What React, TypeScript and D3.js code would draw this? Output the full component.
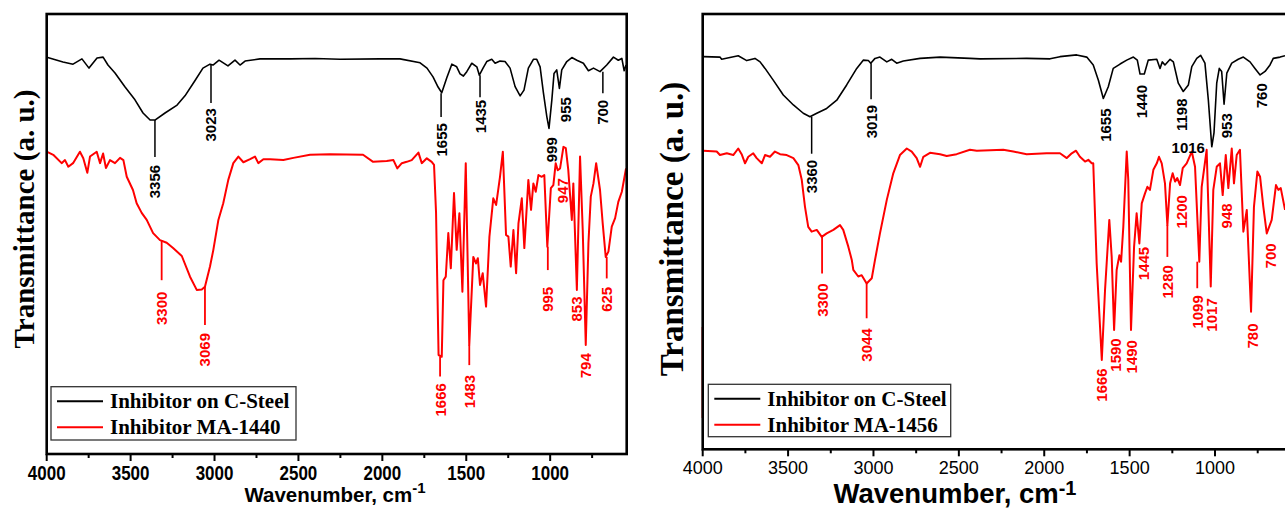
import React, { useEffect } from "react";
import * as d3 from "d3";

type Pt = [number, number];

// ---------- data: [wavenumber cm^-1, transmittance a.u.] ----------
const leftSteel: Pt[] = [[3994,90.1],[3903,89.1],[3843,88.6],[3790,89.8],[3748,87.7],[3700,90.0],[3664,90.2],[3635,88.4],[3593,86.6],[3533,83.4],[3474,80.5],[3426,77.5],[3384,75.9],[3355,75.9],[3295,77.5],[3223,79.3],[3176,81.4],[3116,84.9],[3069,87.7],[3027,88.6],[3009,88.4],[2973,89.5],[2920,88.2],[2878,89.5],[2848,88.4],[2818,89.3],[2729,89.8],[2550,89.8],[2400,89.9],[2252,89.7],[2014,89.8],[1895,89.8],[1775,88.9],[1734,87.7],[1698,85.7],[1668,83.4],[1646,82.1],[1616,85.5],[1586,88.6],[1557,88.0],[1537,86.4],[1517,85.9],[1497,86.9],[1467,88.8],[1437,88.0],[1422,86.1],[1400,87.7],[1378,89.2],[1348,89.7],[1328,88.8],[1299,89.3],[1269,89.2],[1239,87.7],[1209,83.5],[1179,81.4],[1156,82.7],[1130,87.7],[1100,89.7],[1080,89.7],[1060,88.0],[1040,82.0],[1020,76.7],[1007,74.0],[990,80.5],[977,86.5],[961,87.3],[945,83.1],[931,87.3],[901,89.2],[871,90.1],[841,89.5],[802,88.8],[772,87.1],[742,87.7],[703,86.9],[663,88.4],[623,90.2],[594,89.5],[573,89.9],[559,87.1],[548,88.4]];

const leftMA1440: Pt[] = [[3994,68.6],[3961,68.0],[3911,66.1],[3891,66.8],[3871,65.3],[3843,66.1],[3802,68.7],[3782,67.2],[3758,63.9],[3742,67.6],[3702,68.7],[3682,66.1],[3664,68.3],[3647,65.0],[3623,66.8],[3593,66.1],[3563,67.3],[3543,66.8],[3523,63.0],[3486,60.0],[3464,57.0],[3434,54.8],[3404,53.2],[3366,50.2],[3325,48.6],[3285,48.0],[3247,46.8],[3195,45.0],[3146,40.3],[3106,37.3],[3076,37.4],[3057,38.0],[3027,42.6],[3007,46.4],[2977,53.2],[2948,57.0],[2918,62.3],[2888,66.1],[2858,67.6],[2828,66.3],[2788,67.0],[2759,67.6],[2739,66.1],[2709,67.0],[2669,67.0],[2590,66.8],[2530,67.3],[2431,68.0],[2312,68.1],[2115,68.0],[2055,66.4],[1974,66.6],[1934,66.8],[1911,64.9],[1884,66.1],[1855,66.4],[1825,66.8],[1785,68.5],[1765,66.1],[1735,67.2],[1706,66.4],[1692,65.7],[1680,54.8],[1665,22.5],[1646,22.1],[1636,39.5],[1622,40.3],[1607,50.2],[1592,42.2],[1573,59.3],[1557,46.4],[1541,54.7],[1523,36.9],[1503,66.1],[1482,24.8],[1458,44.8],[1442,43.3],[1431,44.5],[1418,38.4],[1402,41.1],[1382,33.5],[1362,49.4],[1339,58.1],[1322,56.6],[1299,63.0],[1282,68.7],[1263,49.8],[1249,49.4],[1235,42.6],[1219,50.9],[1203,41.1],[1189,52.4],[1169,58.1],[1154,46.8],[1130,62.3],[1114,55.5],[1100,61.5],[1086,59.6],[1070,63.4],[1050,63.0],[1035,63.4],[1017,47.1],[996,60.4],[981,61.1],[967,66.1],[955,64.5],[941,64.9],[921,69.8],[907,69.5],[892,64.5],[871,53.2],[862,61.5],[841,37.3],[822,67.6],[806,50.9],[788,24.8],[772,47.9],[758,58.5],[742,61.5],[726,66.1],[703,60.0],[687,52.4],[669,44.8],[653,46.0],[633,51.7],[613,53.6],[594,57.3],[573,59.6],[548,64.9]];

const rightSteel: Pt[] = [[3996,90.2],[3899,90.1],[3889,89.6],[3792,90.4],[3742,89.3],[3694,89.8],[3664,89.0],[3635,87.5],[3587,84.8],[3528,81.4],[3469,79.1],[3411,77.2],[3372,76.4],[3332,77.2],[3274,78.3],[3215,80.2],[3157,83.7],[3098,87.5],[3060,89.4],[3030,89.3],[3016,88.7],[2991,89.8],[2962,90.1],[2922,89.0],[2893,89.6],[2864,88.7],[2825,89.2],[2727,89.8],[2610,90.1],[2435,89.8],[2376,89.7],[2103,89.8],[1966,89.7],[1908,90.2],[1810,90.6],[1751,90.1],[1713,88.3],[1683,84.8],[1654,80.6],[1625,83.3],[1596,87.5],[1556,88.5],[1517,89.4],[1478,90.1],[1455,89.4],[1439,86.2],[1414,86.2],[1391,89.4],[1341,89.6],[1322,87.5],[1309,89.0],[1293,88.3],[1263,89.6],[1244,89.0],[1215,84.1],[1186,82.2],[1156,83.7],[1136,87.9],[1107,89.8],[1084,90.5],[1059,88.7],[1039,80.2],[1019,69.5],[1006,72.7],[990,84.1],[975,87.5],[961,86.8],[947,79.3],[931,86.4],[902,88.7],[864,89.6],[834,90.1],[795,89.0],[766,87.5],[736,86.0],[707,86.8],[678,88.3],[659,89.8],[619,90.1],[590,90.4]];

const rightMA1456: Pt[] = [[3996,68.6],[3918,68.4],[3899,67.6],[3859,68.0],[3821,67.6],[3792,69.1],[3772,67.8],[3752,65.7],[3733,67.2],[3704,68.0],[3684,66.9],[3654,65.7],[3635,67.6],[3606,67.2],[3577,68.4],[3547,67.8],[3508,67.6],[3469,66.9],[3440,65.3],[3420,61.9],[3401,55.7],[3382,51.1],[3362,50.0],[3332,50.4],[3303,48.8],[3274,49.6],[3235,50.4],[3196,51.5],[3177,50.4],[3147,46.5],[3127,43.5],[3118,41.2],[3089,39.7],[3069,40.0],[3040,38.1],[3010,39.3],[2991,43.5],[2962,49.6],[2922,57.3],[2884,63.4],[2845,67.6],[2805,69.1],[2776,68.4],[2747,66.9],[2727,64.9],[2708,67.2],[2669,68.1],[2610,67.8],[2571,67.4],[2513,67.8],[2435,68.8],[2395,68.6],[2240,68.8],[2181,68.4],[2103,67.8],[1986,68.0],[1908,68.0],[1868,66.9],[1839,68.0],[1814,68.6],[1791,67.2],[1761,66.1],[1742,66.5],[1722,65.7],[1713,65.7],[1693,42.7],[1663,20.5],[1644,36.6],[1619,52.7],[1605,44.2],[1591,27.4],[1576,41.2],[1560,44.6],[1550,43.1],[1537,51.1],[1517,68.4],[1508,61.9],[1492,27.4],[1474,46.5],[1459,54.2],[1443,47.3],[1429,56.5],[1410,58.8],[1396,60.3],[1381,59.6],[1361,64.2],[1341,65.7],[1328,67.2],[1312,65.7],[1293,61.1],[1279,51.5],[1263,61.1],[1248,63.4],[1234,61.5],[1221,62.3],[1205,60.7],[1189,64.6],[1166,65.7],[1136,68.4],[1117,64.9],[1092,43.1],[1078,60.3],[1049,68.8],[1025,37.4],[1010,59.6],[990,64.9],[971,65.7],[955,58.4],[937,67.6],[922,60.0],[902,69.1],[889,61.1],[873,67.6],[854,68.8],[834,50.0],[814,55.0],[789,31.6],[772,55.7],[752,63.8],[736,62.6],[717,55.7],[697,49.6],[668,52.7],[643,60.7],[629,59.6],[615,60.0],[590,55.0]];

const rightMA1456Start: Pt[] = [[4000, 28.1], [4000, 7.2]];

interface Peak { label: string; wn: number; from?: number; to?: number; top: number; }

const leftSteelPeaks: Peak[] = [
  { label: "3356", wn: 3355, from: 75.9, to: 67.5, top: 65.7 },
  { label: "3023", wn: 3021, from: 88.4, to: 79.8, top: 78.6 },
  { label: "1655", wn: 1650, from: 82.0, to: 76.6, top: 75.2 },
  { label: "1435", wn: 1418, from: 86.1, to: 81.1, top: 80.5 },
  { label: "999", wn: 995, top: 72.0 },
  { label: "955", wn: 911, top: 81.1 },
  { label: "700", wn: 686, from: 86.9, to: 82.0, top: 80.5 },
];
const leftMAPeaks: Peak[] = [
  { label: "3300", wn: 3315, from: 48.6, to: 39.5, top: 36.9 },
  { label: "3069", wn: 3057, from: 38.0, to: 29.3, top: 27.5 },
  { label: "1666", wn: 1656, from: 22.1, to: 17.6, top: 16.1 },
  { label: "1483", wn: 1482, from: 24.8, to: 20.2, top: 18.0 },
  { label: "995", wn: 1014, from: 47.1, to: 41.8, top: 38.0 },
  { label: "947", wn: 929, top: 62.7 },
  { label: "853", wn: 841, top: 35.8 },
  { label: "794", wn: 788, top: 22.9 },
  { label: "625", wn: 663, from: 44.8, to: 39.9, top: 38.0 },
];
const rightSteelPeaks: Peak[] = [
  { label: "3360", wn: 3362, from: 76.4, to: 67.9, top: 66.5 },
  { label: "3019", wn: 3014, from: 88.7, to: 80.4, top: 79.1 },
  { label: "1655", wn: 1640, top: 78.3 },
  { label: "1440", wn: 1429, top: 83.7 },
  { label: "1198", wn: 1195, top: 80.6 },
  { label: "953", wn: 931, top: 77.2 },
  { label: "760", wn: 727, top: 84.1 },
];
const rightSteelFlatPeaks = [{ label: "1016", wn: 1059, base: 68.0 }];
const rightMAPeaks: Peak[] = [
  { label: "3300", wn: 3301, from: 48.8, to: 40.4, top: 38.1 },
  { label: "3044", wn: 3040, from: 38.1, to: 30.1, top: 27.8 },
  { label: "1666", wn: 1663, top: 18.6 },
  { label: "1590", wn: 1580, top: 25.5 },
  { label: "1490", wn: 1488, top: 25.1 },
  { label: "1445", wn: 1420, top: 46.5 },
  { label: "1280", wn: 1279, from: 51.5, to: 44.2, top: 42.3 },
  { label: "1200", wn: 1195, top: 58.4 },
  { label: "1099", wn: 1104, from: 43.1, to: 37.0, top: 35.4 },
  { label: "1017", wn: 1019, top: 34.7 },
  { label: "948", wn: 931, top: 56.5 },
  { label: "780", wn: 779, top: 28.9 },
  { label: "700", wn: 678, top: 47.3 },
];

const majorTicks = [4000, 3500, 3000, 2500, 2000, 1500, 1000];
const minorTicks = [3750, 3250, 2750, 2250, 1750, 1250, 750];
const legendSteel = "Inhibitor on C-Steel";
const legendLeftRed = "Inhibitor MA-1440";
const legendRightRed = "Inhibitor MA-1456";
const yTitle = "Transmittance (a. u.)";
const xTitle = "Wavenumber, cm";

const SANS = "'Liberation Sans', Arial, sans-serif";
const SERIF = "'Liberation Serif', 'Times New Roman', serif";
const RED = "#ff0000";

interface PanelCfg {
  id: string;
  left: number; right: number; top: number; bottom: number;
  wnMax: number; wnMin: number;
  steel: Pt[]; ma: Pt[]; maExtra?: Pt[];
  steelPeaks: Peak[]; maPeaks: Peak[];
  flatPeaks?: { label: string; wn: number; base: number }[];
  redLegend: string;
  legend: { x: number; y: number; w: number; h: number };
  tickBold: boolean; tickSize: number; tickBase: number; tickScaleY: number;
  yTitleX: number; yTitleY: number; yTitleSize: number;
  xTitleX: number; xTitleBase: number; xTitleSize: number; supSize: number; supDy: number;
}

function Panel({ c }: { c: PanelCfg }) {
  const x = d3.scaleLinear().domain([c.wnMax, c.wnMin]).range([c.left, c.right]);
  const y = d3.scaleLinear().domain([0, 100]).range([c.bottom, c.top]);
  const line = d3.line<Pt>().x(d => x(d[0])).y(d => y(d[1]));
  const clipId = "clip-" + c.id;

  const peakMarks = (peaks: Peak[], color: string, lw: number) =>
    peaks.map((p, i) => (
      <g key={color + i}>
        {p.from !== undefined && p.to !== undefined && (
          <line x1={x(p.wn)} x2={x(p.wn)} y1={y(p.from)} y2={y(p.to)} stroke={color} strokeWidth={lw} />
        )}
        <text
          transform={`translate(${x(p.wn)},${y(p.top)}) rotate(-90)`}
          textAnchor="end"
          dominantBaseline="central"
          fontFamily={SANS}
          fontWeight="bold"
          fontSize={15}
          fill={color}
        >
          {p.label}
        </text>
      </g>
    ));

  const L = c.legend;
  return (
    <g>
      <defs>
        <clipPath id={clipId}>
          <rect x={c.left} y={c.top} width={c.right - c.left} height={c.bottom - c.top} />
        </clipPath>
      </defs>
      <g clipPath={`url(#${clipId})`}>
        <path d={line(c.steel) || ""} fill="none" stroke="#000" strokeWidth={1.6} strokeLinejoin="round" />
        <path d={line(c.ma) || ""} fill="none" stroke={RED} strokeWidth={2} strokeLinejoin="round" />
      </g>
      {c.maExtra && <path d={line(c.maExtra) || ""} fill="none" stroke={RED} strokeWidth={2.2} />}
      {peakMarks(c.steelPeaks, "#000", 1.5)}
      {peakMarks(c.maPeaks, RED, 1.8)}
      {c.flatPeaks && c.flatPeaks.map((p, i) => (
        <text key={"f" + i} x={x(p.wn)} y={y(p.base)} textAnchor="end" fontFamily={SANS} fontWeight="bold" fontSize={15} fill="#000">
          {p.label}
        </text>
      ))}
      {/* frame */}
      <rect x={c.left} y={c.top} width={c.right - c.left} height={c.bottom - c.top} fill="none" stroke="#000" strokeWidth={2.6} />
      {/* ticks */}
      {majorTicks.map(t => (
        <g key={"M" + t}>
          <line x1={x(t)} x2={x(t)} y1={c.bottom} y2={c.bottom + 7} stroke="#000" strokeWidth={2} />
          <text
            transform={`translate(${x(t)},${c.tickBase}) scale(1,${c.tickScaleY})`}
            textAnchor="middle"
            fontFamily={SANS}
            fontWeight={c.tickBold ? "bold" : "normal"}
            fontSize={c.tickSize}
            fill="#000"
          >
            {t}
          </text>
        </g>
      ))}
      {minorTicks.filter(t => t > c.wnMin).map(t => (
        <line key={"m" + t} x1={x(t)} x2={x(t)} y1={c.bottom} y2={c.bottom + 4} stroke="#000" strokeWidth={2} />
      ))}
      {/* axis titles */}
      <text
        transform={`translate(${c.yTitleX},${c.yTitleY}) rotate(-90)`}
        textAnchor="middle"
        fontFamily={SERIF}
        fontWeight="bold"
        fontSize={c.yTitleSize}
        fill="#000"
      >
        {yTitle}
      </text>
      <text x={c.xTitleX} y={c.xTitleBase} textAnchor="middle" fontFamily={SANS} fontWeight="bold" fontSize={c.xTitleSize} fill="#000">
        {xTitle}
        <tspan fontSize={c.supSize} dy={c.supDy}>-1</tspan>
      </text>
      {/* legend */}
      <rect x={L.x} y={L.y} width={L.w} height={L.h} fill="#fff" stroke="#333" strokeWidth={1.3} />
      <line x1={L.x + 6} x2={L.x + 52} y1={L.y + 14.5} y2={L.y + 14.5} stroke="#000" strokeWidth={2} />
      <line x1={L.x + 6} x2={L.x + 52} y1={L.y + 40.5} y2={L.y + 40.5} stroke={RED} strokeWidth={2} />
      <text x={L.x + 59} y={L.y + 21.5} fontFamily={SERIF} fontWeight="bold" fontSize={21} fill="#000">{legendSteel}</text>
      <text x={L.x + 59} y={L.y + 47.5} fontFamily={SERIF} fontWeight="bold" fontSize={21} fill="#000">{c.redLegend}</text>
    </g>
  );
}

const leftCfg: PanelCfg = {
  id: "L", left: 46.7, right: 626.7, top: 14, bottom: 454, wnMax: 4000, wnMin: 544,
  steel: leftSteel, ma: leftMA1440, steelPeaks: leftSteelPeaks, maPeaks: leftMAPeaks,
  redLegend: legendLeftRed, legend: { x: 51, y: 386.7, w: 245, h: 53.3 },
  tickBold: true, tickSize: 17, tickBase: 480, tickScaleY: 1.15,
  yTitleX: 34, yTitleY: 219, yTitleSize: 29,
  xTitleX: 335, xTitleBase: 502, xTitleSize: 20.5, supSize: 15, supDy: -9,
};

const rightCfg: PanelCfg = {
  id: "R", left: 702.7, right: 1300.4, top: 14, bottom: 449.3, wnMax: 4000, wnMin: 500,
  steel: rightSteel, ma: rightMA1456, maExtra: rightMA1456Start, steelPeaks: rightSteelPeaks, maPeaks: rightMAPeaks,
  flatPeaks: rightSteelFlatPeaks,
  redLegend: legendRightRed, legend: { x: 708.3, y: 384.3, w: 242.4, h: 52.4 },
  tickBold: false, tickSize: 18, tickBase: 474, tickScaleY: 1,
  yTitleX: 683, yTitleY: 229, yTitleSize: 33,
  xTitleX: 955, xTitleBase: 503.3, xTitleSize: 27.5, supSize: 20, supDy: -8,
};

export default function App() {
  useEffect(() => {
    document.body.style.margin = "0";
  }, []);
  return (
    <svg width={1285} height={509} style={{ position: "absolute", left: 0, top: 0, background: "#fff" }}>
      <rect x={0} y={0} width={1285} height={509} fill="#fff" />
      <Panel c={leftCfg} />
      <Panel c={rightCfg} />
    </svg>
  );
}
